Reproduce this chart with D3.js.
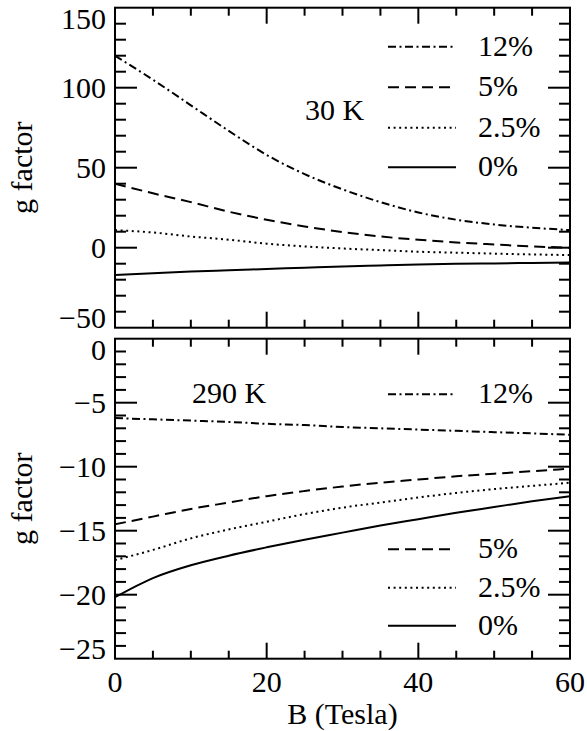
<!DOCTYPE html>
<html>
<head>
<meta charset="utf-8">
<script src="https://cdn.jsdelivr.net/npm/d3@7"></script>
<style>
  body { margin: 0; background: #fff; }
  svg text { font-family: 'Liberation Serif', 'Nimbus Roman', 'Nimbus Roman No9 L', FreeSerif, 'DejaVu Serif', 'Noto Serif', serif !important; font-size: 30px; }
</style>
</head>
<body>
<div id="chart"></div>
<script>
// magnetic field values (Tesla)
const bField = [0, 5, 10, 15, 20, 25, 30, 35, 40, 45, 50, 55, 60];

// 30 K panel
const g30k12 = [120, 105, 89, 73, 58, 46, 36.5, 28.5, 22, 17.5, 14.5, 12.5, 11];
const g30k5 = [40, 34, 28.5, 22.5, 17.5, 13.3, 9.8, 7, 5, 3.3, 2, 0.8, 0];
const g30k25 = [11, 9.5, 7, 5, 2.5, 0.8, -0.5, -1.5, -2.5, -3.1, -3.7, -4.2, -4.6];
const g30k0 = [-17, -15.9, -14.9, -14.1, -13.3, -12.5, -11.7, -11.1, -10.5, -10.1, -9.8, -9.5, -9.3];

// 290 K panel
const g290k12 = [-6.2, -6.3, -6.4, -6.5, -6.65, -6.75, -6.9, -7.0, -7.1, -7.2, -7.3, -7.4, -7.5];
const g290k5 = [-14.5, -13.9, -13.3, -12.8, -12.3, -11.9, -11.55, -11.25, -11, -10.75, -10.55, -10.35, -10.15];
const g290k25 = [-17.3, -16.5, -15.6, -14.9, -14.3, -13.7, -13.2, -12.8, -12.4, -12.05, -11.75, -11.5, -11.25];
const g290k0 = [-20.2, -18.7, -17.7, -16.95, -16.3, -15.7, -15.15, -14.6, -14.1, -13.6, -13.15, -12.7, -12.3];

const seriesLabels = ['12%', '5%', '2.5%', '0%'];
const xTicks = [0, 20, 40, 60];
const yTicks30 = [-50, 0, 50, 100, 150];
const yTicks290 = [-25, -20, -15, -10, -5, 0];

const width = 587, height = 731;
const left = 115, right = 570;

// dash styles per series
const dashes = ['8,3.5,2,3.5', '11,6', '2,3.6', null];

const svg = d3.select('#chart').append('svg')
    .attr('width', width)
    .attr('height', height);

const x = d3.scaleLinear().domain([0, 60]).range([left, right]);

const panels = [
    {
        top: 7.7, bottom: 327.7, domain: [-50, 150], minorStep: 10, ticks: yTicks30,
        series: [g30k12, g30k5, g30k25, g30k0],
        label: '30 K', labelX: 305, labelY: 120,
        legendY: [46.7, 87.3, 127.7, 167.3]
    },
    {
        top: 338.7, bottom: 658.7, domain: [-25, 0], minorStep: 1, ticks: yTicks290,
        series: [g290k12, g290k5, g290k25, g290k0],
        label: '290 K', labelX: 192, labelY: 403,
        legendY: [394.3, 549.3, 587.7, 625.7]
    }
];

panels.forEach((p, pi) => {
    const y = d3.scaleLinear().domain(p.domain).range([p.bottom, p.top]);
    const g = svg.append('g');

    const clipId = 'clip' + pi;
    svg.append('clipPath').attr('id', clipId)
        .append('rect')
        .attr('x', left).attr('y', p.top)
        .attr('width', right - left).attr('height', p.bottom - p.top);

    // x ticks on top and bottom edges
    const xMinor = d3.range(0, 61, 5);
    xMinor.forEach(v => {
        const len = v % 20 === 0 ? 16 : 8;
        if (v === 0 || v === 60) return;
        g.append('line').attr('x1', x(v)).attr('x2', x(v))
            .attr('y1', p.bottom).attr('y2', p.bottom - len)
            .attr('stroke', '#000').attr('stroke-width', 2);
        g.append('line').attr('x1', x(v)).attr('x2', x(v))
            .attr('y1', p.top).attr('y2', p.top + len)
            .attr('stroke', '#000').attr('stroke-width', 2);
    });

    // y ticks on left and right edges
    const yMinor = d3.range(p.domain[0], p.domain[1] + 0.001, p.minorStep);
    const majorStep = p.ticks[1] - p.ticks[0];
    yMinor.forEach(v => {
        if (v === p.domain[0] || v === p.domain[1]) return;
        const isMajor = Math.abs(v / majorStep - Math.round(v / majorStep)) < 1e-6;
        const len = isMajor ? 22 : 11;
        g.append('line').attr('x1', left).attr('x2', left + len)
            .attr('y1', y(v)).attr('y2', y(v))
            .attr('stroke', '#000').attr('stroke-width', 2);
        g.append('line').attr('x1', right).attr('x2', right - len)
            .attr('y1', y(v)).attr('y2', y(v))
            .attr('stroke', '#000').attr('stroke-width', 2);
    });

    // y tick labels, end labels pulled inside the frame
    p.ticks.forEach(v => {
        let dy = 10.5;
        if (v === p.domain[1]) dy = 21.5;
        if (v === p.domain[0]) dy = 0.5;
        g.append('text')
            .attr('x', 106)
            .attr('y', y(v) + dy)
            .attr('text-anchor', 'end')
            .text(v < 0 ? '\u2212' + Math.abs(v) : v);
    });

    // curves
    const line = d3.line()
        .x((d, i) => x(bField[i]))
        .y(d => y(d))
        .curve(d3.curveMonotoneX);

    p.series.forEach((s, si) => {
        g.append('path')
            .datum(s)
            .attr('d', line)
            .attr('fill', 'none')
            .attr('stroke', '#000')
            .attr('stroke-width', 2)
            .attr('stroke-dasharray', dashes[si])
            .attr('clip-path', `url(#${clipId})`);
    });

    // legend
    seriesLabels.forEach((lab, si) => {
        const ly = p.legendY[si];
        g.append('line')
            .attr('x1', 388).attr('x2', 456)
            .attr('y1', ly).attr('y2', ly)
            .attr('stroke', '#000').attr('stroke-width', 2)
            .attr('stroke-dasharray', dashes[si]);
        g.append('text')
            .attr('x', 478).attr('y', ly + 9)
            .text(lab);
    });

    g.append('text')
        .attr('x', p.labelX).attr('y', p.labelY)
        .text(p.label);

    // frame
    g.append('rect')
        .attr('x', left).attr('y', p.top)
        .attr('width', right - left).attr('height', p.bottom - p.top)
        .attr('fill', 'none')
        .attr('stroke', '#000').attr('stroke-width', 2);

    // y axis title
    g.append('text')
        .attr('transform', `translate(32, ${(p.top + p.bottom) / 2}) rotate(-90)`)
        .attr('text-anchor', 'middle')
        .text('g factor');
});

// x tick labels under the bottom panel
xTicks.forEach(v => {
    svg.append('text')
        .attr('x', x(v)).attr('y', 692)
        .attr('text-anchor', 'middle')
        .text(v);
});

svg.append('text')
    .attr('x', (left + right) / 2).attr('y', 724)
    .attr('text-anchor', 'middle')
    .text('B (Tesla)');
</script>
</body>
</html>
